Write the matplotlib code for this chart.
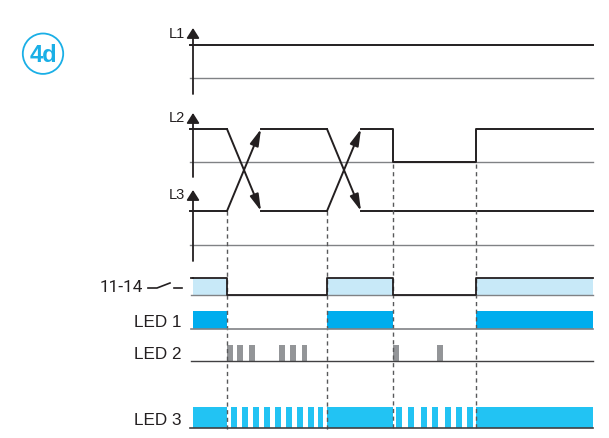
import matplotlib.pyplot as plt
from matplotlib.patches import Rectangle, Circle

plt.rcParams['font.family'] = ['Liberation Sans', 'DejaVu Sans']

# time axis: 0 .. 400 (arbitrary units), switching events
t_end = 400
events = [34, 134, 200, 283]          # dashed marker lines
ramp = 34                              # duration of the L2/L3 swap

# contact 11-14 / LED 1 on-intervals
relay_on = [(0, 34), (134, 200), (283, 400)]
# LED 2 blink pulses (start times)
led2_pulses = [34, 44, 56, 86, 97, 108.7, 200, 244]
# LED 3: steady-on intervals and blink pulses
led3_on = [(0, 34), (134, 200), (283, 400)]
led3_pulses = [38, 49, 60, 71, 82, 93, 104, 115, 124.7,
               203, 215, 228, 239, 252, 263, 274]

labels = ["LED 1", "LED 2", "LED 3"]

ink = "#231f20"
grey_line = "#808285"
light_blue = "#c8e9f8"
led1_blue = "#00adee"
led3_blue = "#22c3f3"
led2_grey = "#939598"
badge = "#1aafe6"

x0 = 193  # where the time axis begins, in figure columns

fig = plt.figure(figsize=(6.09, 4.39), dpi=100)
ax = fig.add_axes([0, 0, 1, 1])
ax.set_xlim(-x0, 609 - x0)
ax.set_ylim(439, 0)
ax.axis("off")

def vaxis(y_top, y_bot, name):
    ax.annotate("", xy=(0, y_top), xytext=(0, y_bot),
                arrowprops=dict(arrowstyle="-|>,head_length=0.6,head_width=0.38",
                                color=ink, lw=1.3, shrinkA=0, shrinkB=0))
    ax.text(-8, y_top + 4.5, name, fontsize=10.5, color=ink, ha="right", va="center")

# L1
vaxis(29, 95, "L1")
ax.plot([-3, t_end], [45.5, 45.5], color=ink, lw=1.4)
ax.plot([-3, t_end], [79, 79], color=grey_line, lw=1.0)

# L2 / L3 axes
vaxis(114, 178, "L2")
vaxis(191, 262, "L3")
ax.plot([-3, t_end], [163, 163], color=grey_line, lw=1.0)
ax.plot([-3, t_end], [246, 246], color=grey_line, lw=1.0)

hi, lo, mid = 130, 212, 163

# flat parts of the signal traces
ax.plot([-3, 34], [hi, hi], color=ink, lw=1.4)
ax.plot([68, 134], [hi, hi], color=ink, lw=1.4)
ax.plot([168, 200, 200, 283, 283, t_end], [hi, hi, mid, mid, hi, hi],
        color=ink, lw=1.4)
ax.plot([-3, 34], [lo, lo], color=ink, lw=1.4)
ax.plot([68, 134], [lo, lo], color=ink, lw=1.4)
ax.plot([168, t_end], [lo, lo], color=ink, lw=1.4)

# crossing ramps with arrow heads
for ts in (34, 134):
    for a, b in ((hi, lo), (lo, hi)):
        ax.annotate("", xy=(ts + ramp, b), xytext=(ts, a),
                    arrowprops=dict(arrowstyle="-|>,head_length=1.0,head_width=0.27",
                                    color=ink, lw=1.4, shrinkA=0, shrinkB=0))

# dashed event markers
dash_top = [212, 212, 165, 165]
for t, yt in zip(events, dash_top):
    ax.plot([t, t], [yt, 432], color="#58595b", lw=1.0, ls=(0, (3, 2.5)))

# contact 11-14
r_top, r_bot = 279, 296
ax.plot([-2, t_end], [r_bot, r_bot], color=grey_line, lw=1.0)
for a, b in relay_on:
    ax.add_patch(Rectangle((a, r_top), b - a, r_bot - r_top, color=light_blue, lw=0))
rx, ry = [], []
for a, b in relay_on:
    rx += [a, a, b, b]
    ry += [r_bot if a > 0 else r_top, r_top, r_top, r_bot if b < t_end else r_top]
ax.plot(rx, ry, color=ink, lw=1.3)
ax.plot([-2, 0], [r_top, r_top], color=ink, lw=1.3)
ax.text(143 - x0, 288, "11-14", fontsize=12.3, color=ink, ha="right", va="center",
        family="Roboto")
ax.plot([148 - x0, 157 - x0, 170 - x0], [289, 289, 284], color=ink, lw=1.2)
ax.plot([174 - x0, 182 - x0], [289, 289], color=ink, lw=1.2)

# LED 1
l1_top, l1_bot = 312, 330
ax.plot([-2, t_end], [l1_bot, l1_bot], color=grey_line, lw=1.2)
for a, b in relay_on:
    ax.add_patch(Rectangle((a, l1_top), b - a, l1_bot - l1_top, color=led1_blue, lw=0))

# LED 2
l2_top, l2_bot = 346, 362
ax.plot([-2, t_end], [l2_bot, l2_bot], color="#414042", lw=1.0)
for s in led2_pulses:
    ax.add_patch(Rectangle((s, l2_top), 5.6, l2_bot - l2_top, color=led2_grey, lw=0))

# LED 3
l3_top, l3_bot = 408, 429
for a, b in led3_on:
    ax.add_patch(Rectangle((a, l3_top), b - a, l3_bot - l3_top, color=led3_blue, lw=0))
for s in led3_pulses:
    ax.add_patch(Rectangle((s, l3_top), 5.7, l3_bot - l3_top, color=led3_blue, lw=0))
ax.plot([-3, t_end], [l3_bot, l3_bot], color="#414042", lw=1.2)

for name, y in zip(labels, [323, 355, 421]):
    ax.text(182 - x0, y, name, fontsize=12.3, color=ink, ha="right", va="center")

# badge
ax.add_patch(Circle((43 - x0, 54.7), 20.2, fill=False, ec=badge, lw=1.3))
ax.text(43 - x0, 55.5, "4d", fontsize=17, fontweight="bold", color=badge,
        ha="center", va="center")

fig.savefig("out.png", dpi=100)
